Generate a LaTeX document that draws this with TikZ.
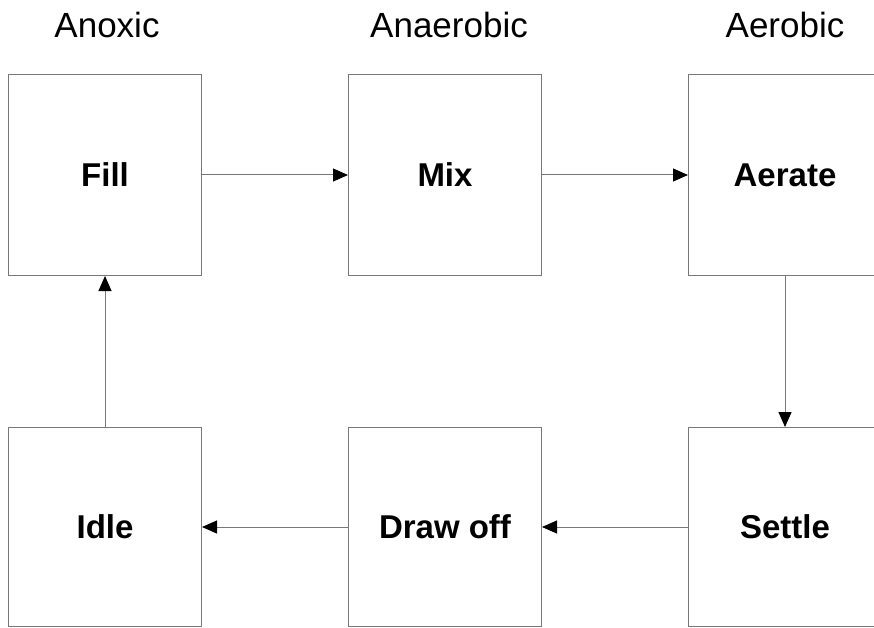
\documentclass[tikz,border=0pt]{standalone}
\usepackage{fontspec}
\setmainfont{Liberation Sans}
\usetikzlibrary{arrows.meta}
\definecolor{edge}{RGB}{120,120,120}
\begin{document}
\begin{tikzpicture}[x=1pt,y=-1pt,
  stage/.style={draw=edge,line width=1pt,minimum width=193pt,minimum height=201pt,inner sep=0pt,
    font=\fontsize{33}{40}\selectfont\bfseries,anchor=north west},
  lowstage/.style={stage,minimum height=199pt},
  phase/.style={font=\fontsize{35}{42}\selectfont,inner sep=0pt},
  flow/.style={draw=edge,line width=1pt,-{Triangle[length=15pt,width=13pt,color=black]}}]
\useasboundingbox (0,0) rectangle (874,628);
\begin{scope}
\clip (0,0) rectangle (874,628);
\node[stage] (fill) at (8,74) {Fill};
\node[stage] (mix) at (348,74) {Mix};
\node[stage] (aerate) at (688,74) {Aerate};
\node[lowstage] (idle) at (8,427) {Idle};
\node[lowstage] (draw) at (348,427) {Draw off};
\node[lowstage] (settle) at (688,427) {Settle};
\end{scope}
\node[phase] (anoxic) at (107,25) {Anoxic};
\node[phase] (anaerobic) at (449,25) {Anaerobic};
\node[phase] (aerobic) at (785,25) {Aerobic};
\draw[flow] (fill.east) -- (mix.west);
\draw[flow] (mix.east) -- (aerate.west);
\draw[flow] (aerate.south) -- (settle.north);
\draw[flow] (settle.west) -- (draw.east);
\draw[flow] (draw.west) -- (idle.east);
\draw[flow] (idle.north) -- (fill.south);
\end{tikzpicture}
\end{document}
